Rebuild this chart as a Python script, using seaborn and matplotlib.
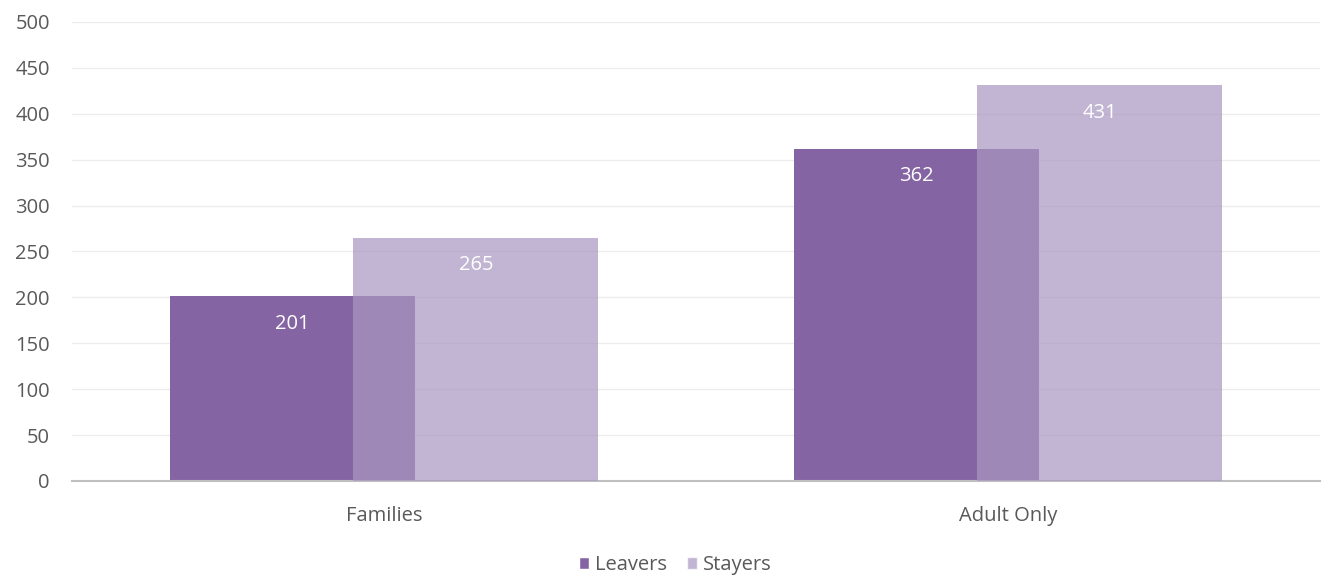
import numpy as np
import pandas as pd
import matplotlib
matplotlib.use("Agg")
import matplotlib.pyplot as plt
import seaborn as sns
from matplotlib.patches import Patch

categories = ["Families", "Adult Only"]
leavers = [201, 362]
stayers = [265, 431]
y_ticks = [0, 50, 100, 150, 200, 250, 300, 350, 400, 450, 500]

LEAVERS_COLOR = "#8564a3"
STAYERS_COLOR = "#a897c1"
STAYERS_ALPHA = 0.71
TEXT_COLOR = "#595959"
FS = 14.5

sns.set_theme(style="white")
plt.rcParams["font.family"] = ["Open Sans", "DejaVu Sans"]

idx = np.arange(len(categories))
bar_w = 0.393
shift = 0.147

df_l = pd.DataFrame({"pos": idx - shift, "value": leavers})
df_s = pd.DataFrame({"pos": idx + shift, "value": stayers})

fig = plt.figure(figsize=(13.22, 5.76), dpi=100)
ax = fig.add_axes([0.0545, 0.165, 0.944, 0.797])

sns.barplot(data=df_l, x="pos", y="value", native_scale=True, width=bar_w,
            color=LEAVERS_COLOR, saturation=1, linewidth=0, ax=ax, zorder=2)
sns.barplot(data=df_s, x="pos", y="value", native_scale=True, width=bar_w,
            color=STAYERS_COLOR, saturation=1, alpha=STAYERS_ALPHA,
            linewidth=0, ax=ax, zorder=3)

# value labels just below each bar top
for cont in ax.containers:
    ax.bar_label(cont, fmt="%d", label_type="edge", padding=-27,
                 color="white", fontsize=FS, zorder=5)

ax.set_xlim(-0.5, 1.5)
ax.set_ylim(0, 500)
ax.set_xticks(idx)
ax.set_xticklabels(categories)
ax.set_yticks(y_ticks)
ax.set_xlabel("")
ax.set_ylabel("")

ax.yaxis.grid(True, color="#ececec", linewidth=1)
ax.set_axisbelow(True)
for s in ["top", "right", "left"]:
    ax.spines[s].set_visible(False)
ax.spines["bottom"].set_color("#bfbfbf")
ax.spines["bottom"].set_linewidth(1.5)

ax.tick_params(axis="y", length=0, pad=16, labelsize=FS, labelcolor=TEXT_COLOR)
ax.tick_params(axis="x", length=0, pad=18, labelsize=FS, labelcolor=TEXT_COLOR)

handles = [Patch(facecolor=LEAVERS_COLOR, label="Leavers"),
           Patch(facecolor=STAYERS_COLOR, alpha=STAYERS_ALPHA, label="Stayers")]
fig.legend(handles=handles, loc="center", bbox_to_anchor=(0.511, 0.019),
           ncol=2, frameon=False, fontsize=FS, labelcolor=TEXT_COLOR,
           handlelength=0.5, handleheight=0.5, handletextpad=0.3,
           columnspacing=1.0)

fig.savefig("out.png", dpi=100, facecolor="white")
